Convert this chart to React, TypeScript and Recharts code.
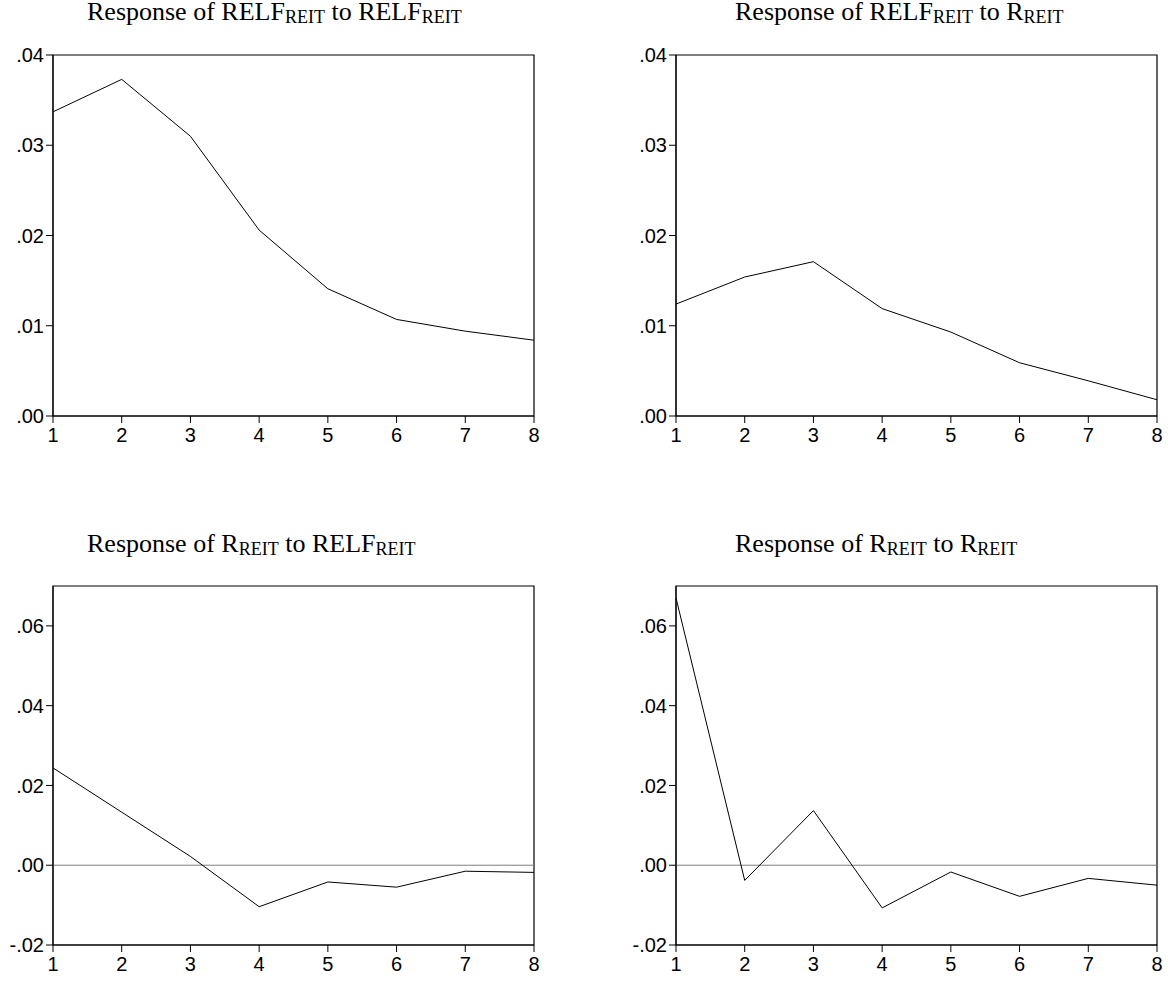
import React from 'react';
import { LineChart, Line, XAxis, YAxis, ReferenceLine, ReferenceArea } from 'recharts';

// horizons
const periods = [1, 2, 3, 4, 5, 6, 7, 8];

// impulse responses
const relfToRelf = [0.0337, 0.0373, 0.031, 0.0206, 0.0141, 0.0107, 0.0094, 0.0084];
const relfToR = [0.0124, 0.0154, 0.0171, 0.0119, 0.0093, 0.0059, 0.0039, 0.0018];
const rToRelf = [0.0244, 0.0133, 0.0022, -0.0104, -0.0042, -0.0055, -0.0015, -0.0018];
const rToR = [0.067, -0.0038, 0.0137, -0.0107, -0.0017, -0.0078, -0.0033, -0.005];

const topTicks = [0, 0.01, 0.02, 0.03, 0.04];
const bottomTicks = [-0.02, 0, 0.02, 0.04, 0.06];

const fmt = (v: number) => {
    const s = v.toFixed(2);
    return s.replace(/^(-?)0\./, '$1.');
};

const tickStyle = { fill: '#000', fontSize: 20, fontFamily: '"Liberation Sans", Arial, sans-serif' };

interface PanelProps {
    left: number;
    top: number;
    height: number;
    values: number[];
    domain: [number, number];
    ticks: number[];
    zeroLine?: boolean;
}

function Panel({ left, top, height, values, domain, ticks, zeroLine }: PanelProps) {
    const data = periods.map((p, i) => ({ h: p, v: values[i] }));
    return (
        <div style={{ position: 'absolute', left, top }}>
            <LineChart width={540} height={height} data={data} margin={{ top: 55, right: 6, left: 0, bottom: 0 }}>
                <XAxis
                    dataKey="h"
                    type="number"
                    domain={[1, 8]}
                    ticks={periods}
                    interval={0}
                    height={34}
                    tickSize={7}
                    tickMargin={5}
                    tick={tickStyle}
                    axisLine={{ stroke: '#000' }}
                    tickLine={{ stroke: '#000' }}
                />
                <YAxis
                    domain={domain}
                    ticks={ticks}
                    allowDataOverflow
                    width={53}
                    tickSize={7}
                    tickMargin={2}
                    tickFormatter={fmt}
                    tick={tickStyle}
                    axisLine={{ stroke: '#000' }}
                    tickLine={{ stroke: '#000' }}
                />
                <ReferenceArea x1={1} x2={8} y1={domain[0]} y2={domain[1]} fill="none" stroke="#000" strokeWidth={1.2} />
                {zeroLine && <ReferenceLine y={0} stroke="#7f7f7f" strokeWidth={1} />}
                <Line
                    type="linear"
                    dataKey="v"
                    stroke="#000"
                    strokeWidth={1}
                    dot={false}
                    isAnimationActive={false}
                />
            </LineChart>
        </div>
    );
}

function Title({ left, top, from, to }: { left: number; top: number; from: string; to: string }) {
    const sub = { fontSize: 18, position: 'relative' as const, top: 3 };
    return (
        <div
            style={{
                position: 'absolute',
                left,
                top,
                fontFamily: '"Liberation Serif", "Times New Roman", serif',
                fontSize: 26,
                lineHeight: '24px',
                whiteSpace: 'nowrap',
                color: '#000',
            }}
        >
            Response of {from}
            <span style={sub}>REIT</span> to {to}
            <span style={sub}>REIT</span>
        </div>
    );
}

export default function App() {
    return (
        <div style={{ position: 'absolute', left: 0, top: 0, width: 1168, height: 981, background: '#fff' }}>
            <Title left={87} top={0} from="RELF" to="RELF" />
            <Title left={735} top={0} from="RELF" to="R" />
            <Title left={87} top={532} from="R" to="RELF" />
            <Title left={735} top={532} from="R" to="R" />

            <Panel left={0} top={0} height={450} values={relfToRelf} domain={[0, 0.04]} ticks={topTicks} />
            <Panel left={623} top={0} height={450} values={relfToR} domain={[0, 0.04]} ticks={topTicks} />
            <Panel left={0} top={531} height={448} values={rToRelf} domain={[-0.02, 0.07]} ticks={bottomTicks} zeroLine />
            <Panel left={623} top={531} height={448} values={rToR} domain={[-0.02, 0.07]} ticks={bottomTicks} zeroLine />
        </div>
    );
}
